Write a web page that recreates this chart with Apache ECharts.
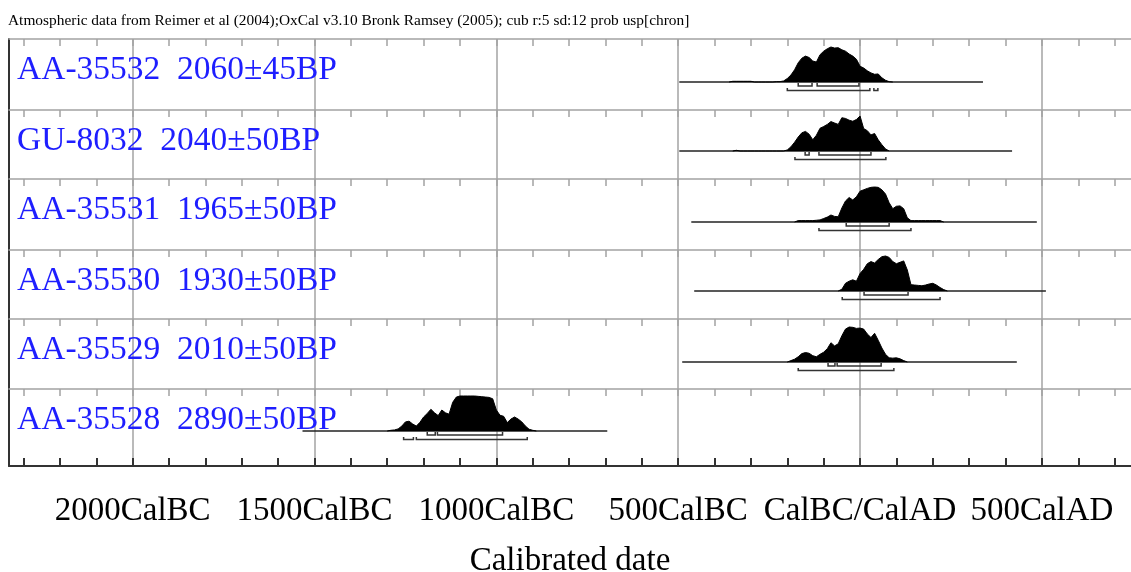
<!DOCTYPE html>
<html>
<head>
<meta charset="utf-8">
<script src="https://cdn.jsdelivr.net/npm/echarts@6/dist/echarts.min.js"></script>
<style>
html, body { margin: 0; padding: 0; background: #fff; }
#main { width: 1131px; height: 572px; }
</style>
</head>
<body>
<div id="main"></div>
<script>
var header = 'Atmospheric data from Reimer et al (2004);OxCal v3.10 Bronk Ramsey (2005); cub r:5 sd:12 prob usp[chron]';

var names = ['AA-35532  2060±45BP', 'GU-8032  2040±50BP', 'AA-35531  1965±50BP',
	'AA-35530  1930±50BP', 'AA-35529  2010±50BP', 'AA-35528  2890±50BP'];

// extent of the thin line under each distribution (years, BC negative)
var lineStart = [-497, -497, -464, -456, -489, -1533];
var lineEnd = [338, 418, 486, 511, 431, -695];

// probability, read every 10 years from the first year
var probStart = [-360, -350, -180, -60, -200, -1300];
var prob1 = [0, 2, 2, 2, 2, 2, 2, 0, 0, 0, 0, 0, 0, 1, 1, 3, 10, 20, 35, 55, 68, 74, 70, 60, 57, 78, 88, 95, 100, 97, 98, 92, 88, 80, 74, 65, 45, 40, 32, 26, 22, 23, 12, 5, 1, 0];
var prob2 = [0, 2, 0, 0, 0, 0, 0, 0, 0, 0, 0, 0, 0, 0, 0, 3, 12, 25, 40, 52, 56, 48, 32, 45, 65, 70, 76, 84, 80, 76, 95, 93, 88, 85, 90, 100, 64, 58, 46, 50, 32, 18, 6, 0];
var prob3 = [0, 4, 4, 4, 4, 4, 5, 6, 10, 14, 20, 16, 15, 40, 60, 70, 63, 72, 88, 92, 96, 99, 100, 99, 92, 80, 55, 38, 45, 46, 38, 12, 4, 4, 4, 4, 4, 4, 4, 4, 4, 0];
var prob4 = [0, 5, 22, 28, 32, 28, 50, 62, 78, 84, 80, 90, 98, 100, 96, 84, 78, 82, 86, 60, 18, 17, 16, 15, 17, 20, 22, 17, 10, 4, 0];
var prob5 = [0, 4, 8, 15, 24, 27, 25, 18, 15, 22, 28, 38, 55, 46, 52, 75, 94, 100, 99, 96, 97, 94, 80, 70, 82, 62, 40, 22, 12, 11, 12, 9, 4, 0];
var prob6 = [0, 2, 3, 6, 14, 26, 28, 20, 14, 25, 40, 50, 62, 52, 44, 60, 52, 48, 82, 97, 100, 100, 100, 100, 100, 99, 98, 97, 96, 92, 60, 45, 42, 24, 34, 40, 34, 26, 14, 5, 2, 0];
var probs = [prob1, prob2, prob3, prob4, prob5, prob6];

// 68.2% and 95.4% ranges
var range68 = [
	[[-170, -132], [-118, -3]],
	[[-151, -140], [-113, 30]],
	[[-38, 80]],
	[[11, 132]],
	[[-88, -69], [-63, 58]],
	[[-1190, -1168], [-1162, -983]]
];
var range95 = [
	[[-200, 27], [38, 49]],
	[[-179, 71]],
	[[-113, 140]],
	[[-49, 220]],
	[[-170, 93]],
	[[-1255, -1228], [-1220, -915]]
];

var tickYears = [-2000, -1500, -1000, -500, 0, 500];
var tickLabels = ['2000CalBC', '1500CalBC', '1000CalBC', '500CalBC', 'CalBC/CalAD', '500CalAD'];
var minorYears = [-2300, -2200, -2100, -2000, -1900, -1800, -1700, -1600, -1500, -1400, -1300, -1200, -1100, -1000, -900, -800, -700, -600, -500, -400, -300, -200, -100, 0, 100, 200, 300, 400, 500, 600, 700];

// layout (pixels)
var rowTop = [39, 110, 179, 250, 319, 389];
var rowHeight = [71, 69, 71, 69, 70, 77];
var baseOffset = [43, 41, 43, 41, 43, 42];
var pxPerUnit = 0.35;
var xMin = -2340, xMax = 745;
var serif = 'Liberation Serif';
var gray = '#a3a3a3';

var dom = document.getElementById('main');
var myChart = echarts.init(dom);

function bracket(depth, tick) {
	return function (params, api) {
		var a = api.coord([api.value(0), 0]);
		var b = api.coord([api.value(1), 0]);
		var y = a[1] + depth;
		return {
			type: 'polyline',
			shape: { points: [[a[0], y - tick], [a[0], y], [b[0], y], [b[0], y - tick]] },
			style: { stroke: '#333', lineWidth: 1.5, fill: 'none' }
		};
	};
}

var titles = [{
	text: header, left: 8, top: 13, padding: 0,
	textStyle: { color: '#000', fontSize: 15.4, fontWeight: 'normal', fontFamily: serif }
}];
var grids = [], xAxes = [], yAxes = [], series = [];

for (var i = 0; i < 6; i++) {
	grids.push({ left: 9, right: 0, top: rowTop[i], height: rowHeight[i], outerBoundsMode: 'none' });
	// row line with 100-year ticks
	xAxes.push({
		gridIndex: i, type: 'value', position: 'top', min: xMin, max: xMax,
		axisLine: { show: true, onZero: false, lineStyle: { color: gray, width: 1.5 } },
		axisTick: { show: true, inside: true, length: 7, customValues: minorYears, lineStyle: { color: gray, width: 1.5 } },
		axisLabel: { show: false },
		splitLine: { show: false }
	});
	// 500-year grid lines
	xAxes.push({
		gridIndex: i, type: 'value', position: 'bottom', min: xMin, max: xMax,
		axisLine: { show: false, onZero: false },
		axisTick: { show: false, customValues: tickYears },
		axisLabel: { show: false },
		splitLine: { show: true, lineStyle: { color: gray, width: 1.5 } }
	});
	yAxes.push({
		gridIndex: i, type: 'value', position: 'left',
		max: baseOffset[i] / pxPerUnit,
		min: -(rowHeight[i] - baseOffset[i]) / pxPerUnit,
		axisLine: { show: true, onZero: false, lineStyle: { color: '#333', width: 2 } },
		axisTick: { show: false }, axisLabel: { show: false }, splitLine: { show: false }
	});
	titles.push({
		text: names[i], left: 17, top: rowTop[i] + 14, padding: 0,
		textStyle: { color: '#1e1eff', fontSize: 33.5, fontWeight: 'normal', fontFamily: serif }
	});

	var pts = probs[i].map(function (v, k) { return [probStart[i] + k * 10, v]; });
	series.push({
		type: 'line', xAxisIndex: 2 * i, yAxisIndex: i, symbol: 'none',
		data: [[lineStart[i], 0], [lineEnd[i], 0]],
		lineStyle: { color: '#222', width: 1.5 }, z: 2
	});
	series.push({
		type: 'line', xAxisIndex: 2 * i, yAxisIndex: i, symbol: 'none',
		data: pts,
		lineStyle: { color: '#000', width: 1 },
		areaStyle: { color: '#000', opacity: 1 }, z: 3
	});
	series.push({
		type: 'custom', xAxisIndex: 2 * i, yAxisIndex: i,
		data: range68[i], renderItem: bracket(4, 3), z: 4
	});
	series.push({
		type: 'custom', xAxisIndex: 2 * i, yAxisIndex: i,
		data: range95[i], renderItem: bracket(8.5, 2.5), z: 4
	});
}

// bottom axis of the last row
xAxes.push({
	gridIndex: 5, type: 'value', position: 'bottom', min: xMin, max: xMax,
	axisLine: { show: true, onZero: false, lineStyle: { color: '#333', width: 2 } },
	axisTick: { show: true, inside: true, length: 8, customValues: minorYears, lineStyle: { color: '#333', width: 2 } },
	axisLabel: {
		customValues: tickYears, margin: 29, color: '#000', fontSize: 33, fontFamily: serif,
		formatter: function (v) { return tickLabels[tickYears.indexOf(v)]; }
	},
	splitLine: { show: false },
	name: 'Calibrated date', nameLocation: 'middle', nameGap: 79,
	nameTextStyle: { color: '#000', fontSize: 33, fontFamily: serif }
});

option = {
	animation: false,
	backgroundColor: '#fff',
	title: titles,
	grid: grids,
	xAxis: xAxes,
	yAxis: yAxes,
	series: series
};

if (option && typeof option === "object") {
	myChart.setOption(option, true);
}
</script>
</body>
</html>
